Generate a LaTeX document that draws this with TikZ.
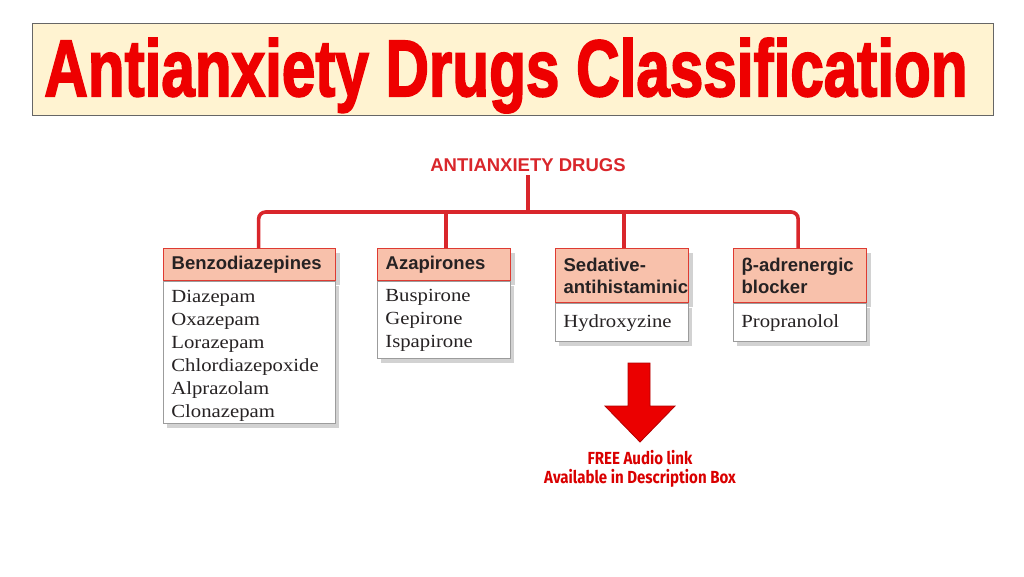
\documentclass[tikz,border=0pt]{standalone}
\usepackage{fontspec}
\usepackage{graphicx}
\setsansfont{Liberation Sans}
\newfontfamily\bannerfont[FakeBold=2.5]{Liberation Sans}
\newfontfamily\drugfont[FakeStretch=1.12]{Liberation Serif}
\newfontfamily\notefont[FakeStretch=0.86]{Fira Sans}
\usetikzlibrary{positioning,shadows}

\definecolor{bannerbg}{HTML}{FFF3D1}
\definecolor{titlered}{HTML}{EE0000}
\definecolor{linkred}{HTML}{D9262B}
\definecolor{headfill}{HTML}{F8C1AB}
\definecolor{headline}{HTML}{DE3B32}
\definecolor{boxgray}{HTML}{9C9C9C}
\definecolor{inkdark}{HTML}{262223}

\tikzset{
  banner/.style={draw=gray!80!black, fill=bannerbg, line width=0.8pt,
    minimum width=961pt, minimum height=92pt},
  rootlabel/.style={text=linkred, font=\sffamily\bfseries\fontsize{18.5}{20}\selectfont},
  link/.style={draw=linkred, line width=3.6pt},
  head/.style={draw=headline, fill=headfill, line width=1.3pt, anchor=north west,
    inner xsep=8pt, inner ysep=2pt, align=left, text=inkdark,
    font=\sffamily\bfseries\fontsize{18.5}{22}\selectfont,
    drop shadow={shadow xshift=4pt, shadow yshift=-4pt, fill=gray!70}},
  drugs/.style={draw=boxgray, fill=white, line width=0.8pt, anchor=north west,
    inner xsep=8pt, inner ysep=2pt, align=left, text=inkdark,
    font=\drugfont\fontsize{18.5}{23}\selectfont,
    drop shadow={shadow xshift=4pt, shadow yshift=-4pt, fill=gray!70}},
}

\begin{document}
\begin{tikzpicture}[x=1pt, y=-1pt]
\useasboundingbox (0,0) rectangle (1024,576);

% title banner
\node[banner] (banner) at (512.5,69) {};
\node[anchor=base, inner sep=0pt, text=titlered] (title) at (506,96)
  {\resizebox{923pt}{58pt}{\bannerfont\bfseries Antianxiety Drugs Classification}};

% root of the tree
\node[rootlabel] (root) at (528,165) {ANTIANXIETY DRUGS};
\coordinate (bus) at (528,212);

% class headers
\node[head, minimum width=172pt, minimum height=32pt, text width=156pt] (benzo) at (163,248) {Benzodiazepines};
\node[head, minimum width=133pt, minimum height=32pt, text width=117pt] (azap) at (377,248) {Azapirones};
\node[head, minimum width=133pt, minimum height=54pt, text width=117pt] (sedat) at (555,248) {Sedative-\\antihistaminic};
\node[head, minimum width=133pt, minimum height=54pt, text width=117pt] (beta) at (733,248) {β-adrenergic\\blocker};

% drug lists
\node[drugs, minimum width=172pt, minimum height=142pt, text width=156pt] (benzolist) at (benzo.south west)
  {\rule{0pt}{19pt}Diazepam\\Oxazepam\\Lorazepam\\Chlordiazepoxide\\Alprazolam\\Clonazepam};
\node[drugs, minimum width=133pt, minimum height=77pt, text width=117pt] (azaplist) at (azap.south west)
  {Buspirone\\Gepirone\\Ispapirone};
\node[drugs, minimum width=133pt, minimum height=38pt, text width=117pt] (sedatlist) at (sedat.south west)
  {Hydroxyzine};
\node[drugs, minimum width=133pt, minimum height=38pt, text width=117pt] (betalist) at (beta.south west)
  {Propranolol};

% connectors
\draw[link] (root.south) -- (bus);
\draw[link, rounded corners=7pt] ([xshift=9pt]benzo.north) -- ([xshift=9pt]benzo.north |- bus)
  -- ([xshift=-2pt]beta.north |- bus) -- ([xshift=-2pt]beta.north);
\foreach \g in {azap, sedat}
  \draw[link] ([xshift=2pt]\g.north) -- ([xshift=2pt]\g.north |- bus);

% big arrow and note
\draw[fill=red!92!black, draw=red!70!black, line width=0.8pt]
  (628,363) -- (650,363) -- (650,406) -- (675,406) -- (640,442) -- (605,406) -- (628,406) -- cycle;
\node[align=center, text=red!85!black, font=\notefont\bfseries\fontsize{17.5}{19}\selectfont] (audio) at (640,469)
  {FREE Audio link\\Available in Description Box};

\end{tikzpicture}
\end{document}
